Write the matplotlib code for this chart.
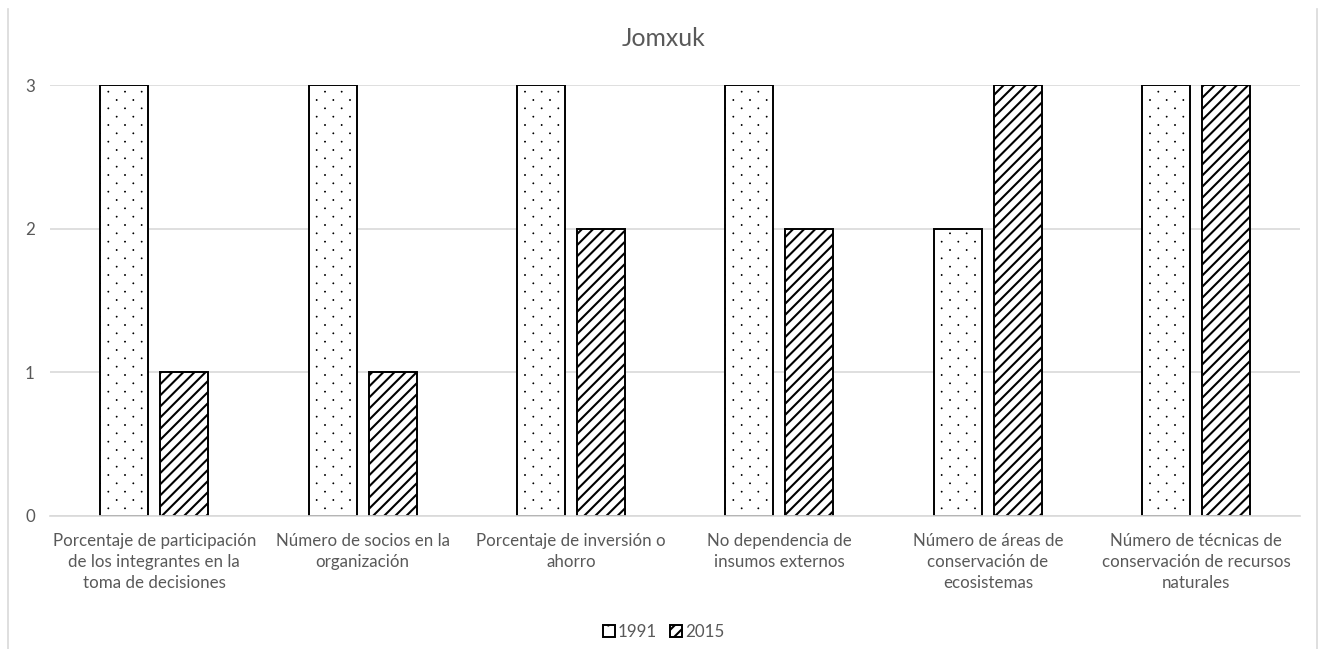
import numpy as np
import matplotlib
matplotlib.use("Agg")
from matplotlib import pyplot as plt
from matplotlib import hatch as mhatch
from matplotlib.path import Path
from matplotlib.lines import Line2D

plt.rcParams['font.family'] = ['Lato', 'DejaVu Sans']
plt.rcParams['hatch.linewidth'] = 1.5


# sparse staggered dot hatch (like Excel's "5%" pattern), triggered by ':'
class SparseDots(mhatch.HatchPatternBase):
    radius = 0.005

    def __init__(self, hatch, density):
        self.n = hatch.count(':') * density
        circle = Path.unit_circle()
        self.shape_vertices = circle.vertices * self.radius
        self.shape_codes = circle.codes
        if self.n == 0:
            self.num_shapes = 0
        else:
            self.num_shapes = (self.n + 1) * (self.n + 1) + self.n * self.n
        self.num_vertices = self.num_shapes * len(self.shape_vertices)

    def set_vertices_and_codes(self, vertices, codes):
        step = 1.0 / self.n
        verts = []
        cods = []
        for row in range(2 * self.n + 1):
            if row % 2 == 0:
                cols = np.linspace(0, 1, self.n + 1)
            else:
                cols = np.linspace(step / 2, 1 - step / 2, self.n)
            for c in cols:
                verts.append(self.shape_vertices + [c, row * step / 2])
                cods.append(self.shape_codes)
        np.concatenate(verts, out=vertices)
        np.concatenate(cods, out=codes)


mhatch._hatch_types.append(SparseDots)

categories = ['Porcentaje de participación\nde los integrantes en la\ntoma de decisiones',
              'Número de socios en la\norganización',
              'Porcentaje de inversión o\nahorro',
              'No dependencia de\ninsumos externos',
              'Número de áreas de\nconservación de\necosistemas',
              'Número de técnicas de\nconservación de recursos\nnaturales']
v1991 = [3, 3, 3, 3, 2, 3]
v2015 = [1, 1, 2, 2, 3, 3]
yticks = [0, 1, 2, 3]

grey = '#595959'
fig = plt.figure(figsize=(13.27, 6.49), dpi=100)
ax = fig.add_axes([0.0377, 0.205, 0.9423, 0.664])

x = np.arange(len(categories))
w = 0.23
gap = 0.058
b1 = ax.bar(x - (w + gap) / 2, v1991, w, facecolor='white', edgecolor='black',
            linewidth=1.4, hatch=':', label='1991')
b2 = ax.bar(x + (w + gap) / 2, v2015, w, facecolor='white', edgecolor='black',
            linewidth=1.4, hatch='///', label='2015')
for p in b1:
    if hasattr(p, 'set_hatch_linewidth'):
        p.set_hatch_linewidth(0.6)

ax.set_xlim(-0.5, len(categories) - 0.5)
ax.set_ylim(0, 3)
ax.set_yticks(yticks)
ax.set_yticklabels([str(t) for t in yticks])
ax.set_xticks(x)
ax.set_xticklabels(categories, linespacing=1.38)
ax.yaxis.grid(True, color='#d9d9d9', linewidth=1.2)
ax.set_axisbelow(True)
for s in ['top', 'right', 'left']:
    ax.spines[s].set_visible(False)
ax.spines['bottom'].set_color('#d9d9d9')
ax.spines['bottom'].set_linewidth(1.2)
ax.tick_params(axis='both', length=0, colors=grey, labelsize=12.2)
ax.tick_params(axis='x', pad=12)
ax.tick_params(axis='y', pad=11)

fig.text(0.5, 0.941, 'Jomxuk', ha='center', va='center', fontsize=17.8, color=grey)

leg = fig.legend(handles=[b1, b2], loc='center', bbox_to_anchor=(0.5, 0.026), ncol=2,
                 frameon=False, fontsize=12.2, handlelength=0.7, handleheight=0.7,
                 handletextpad=0.15, columnspacing=0.8, labelcolor=grey)

# chart area border (left and right edges)
fig.add_artist(Line2D([8 / 1327, 8 / 1327], [0, 1 - 9 / 649], color='#d9d9d9', linewidth=1.2))
fig.add_artist(Line2D([1317 / 1327, 1317 / 1327], [0, 1 - 9 / 649], color='#d9d9d9', linewidth=1.2))

fig.savefig('out.png', dpi=100)
